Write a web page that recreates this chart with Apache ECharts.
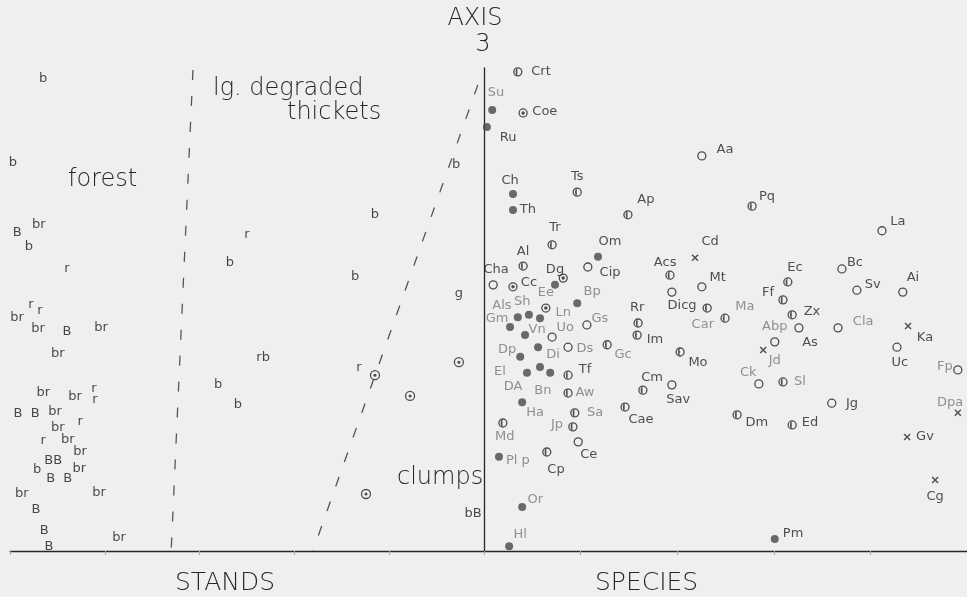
<!DOCTYPE html>
<html><head><meta charset="utf-8">
<script src="https://cdn.jsdelivr.net/npm/echarts@6/dist/echarts.min.js"></script>
<style>html,body{margin:0;padding:0;background:#efefef}#c{width:967px;height:597px}</style>
</head><body><div id="c"></div><script>
// ---- STANDS (axis 1 score, axis 3 score) ----
const standLetters = [
  ["b",7.0,97.9],["b",0.6,80.5],["B",1.5,66.0],["br",6.1,67.5],["b",4.0,63.1],["r",12.0,58.4],
  ["br",1.5,48.4],["r",4.4,51.1],["r",6.3,49.7],["br",5.9,46.0],["B",12.0,45.5],["br",19.2,46.2],
  ["br",10.1,40.8],["br",7.0,32.7],["br",13.7,31.9],["r",17.7,33.7],["r",17.9,31.3],
  ["B",1.7,28.4],["B",5.3,28.4],["br",9.5,28.8],["r",14.8,26.7],["br",10.1,25.5],["r",7.0,22.8],
  ["br",12.2,23.0],["BB",9.1,18.8],["br",14.8,20.5],["b",5.7,16.8],["B",8.6,14.9],["B",12.2,14.9],
  ["br",14.6,17.0],["br",2.5,11.8],["br",18.8,12.0],["B",5.5,8.5],["B",7.2,4.3],["B",8.2,1.0],
  ["br",23.0,2.7],["r",50.0,65.4],["b",46.4,59.8],["b",43.9,34.4],["b",48.1,30.4],["rb",53.4,40.0],
  ["b",77.0,69.6],["b",72.8,56.9],["b",94.1,79.9],["r",73.6,37.9],["g",94.7,53.2],["bB",97.7,7.7]
];
const standCircles = [[77.0,36.4],[94.7,39.1],[84.4,32.1],[75.1,11.8]];
const forestBoundary = [[38.6,99.6],[34.0,0]];
const thicketBoundary = [[98.7,96.5],[63.9,0]];

// ---- SPECIES: [label, x, y, labelX, labelY] ----
const openSpecies = [
  ["Aa",45.1,81.8,49.9,83.0],["Cip",21.5,58.8,26.1,57.6],["Cha",1.9,55.1,2.5,58.2],["Mt",45.1,54.7,48.4,56.5],
  ["Dicg",38.9,53.6,41.0,50.9],["Gs",21.3,46.8,24.0,48.2],["Uo",14.1,44.3,16.8,46.2],["Ds",17.4,42.2,20.9,42.0],
  ["Sav",38.9,34.4,40.2,31.3],["Ce",19.5,22.6,21.7,19.9],["La",82.4,66.3,85.7,68.1],["Bc",74.1,58.4,76.8,59.8],
  ["Sv",77.2,54.0,80.5,55.1],["Ai",86.7,53.6,88.8,56.5],["Abp",60.2,43.3,60.2,46.4],["As",65.2,46.2,67.5,43.1],
  ["Cla",73.3,46.2,78.5,47.4],["Uc",85.5,42.2,86.1,38.9],["Fp",98.1,37.5,95.4,38.1],["Ck",56.9,34.6,54.7,36.9],
  ["Jg",72.0,30.6,76.2,30.6]
];
const halfSpecies = [
  ["Crt",7.0,99.2,11.8,99.2],["Ts",19.3,74.3,19.3,77.6],["Ap",29.8,69.6,33.5,72.7],["Tr",14.1,63.4,14.7,66.9],
  ["Al",8.1,59.0,8.1,61.9],["Acs",38.5,57.1,37.5,59.8],["Pq",55.5,71.4,58.6,73.3],["Rr",31.9,47.2,31.7,50.3],
  ["Car",46.2,50.3,45.3,46.8],["Ma",49.9,48.2,54.0,50.5],["Im",31.7,44.7,35.4,43.7],["Mo",40.6,41.2,44.3,39.1],
  ["Gc",25.5,42.7,28.8,40.6],["Tf",17.4,36.4,20.9,37.5],["Cm",32.9,33.3,34.8,35.8],["Aw",17.4,32.7,20.9,32.7],
  ["Sa",18.8,28.6,23.0,28.6],["Cae",29.2,29.8,32.5,27.1],["Jp",18.4,25.7,15.1,26.1],["Md",3.9,26.5,4.3,23.6],
  ["Cp",13.0,20.5,14.9,16.8],["Ec",62.9,55.7,64.4,58.6],["Ff",61.9,52.0,58.8,53.4],["Zx",63.8,48.9,67.9,49.5],
  ["Sl",61.9,35.0,65.4,35.0],["Dm",52.4,28.2,56.5,26.5],["Ed",63.8,26.1,67.5,26.5]
];
const dottedSpecies = [
  ["Coe",8.1,90.7,12.6,90.9],["Dg",16.4,56.5,14.7,58.2],["Cc",6.0,54.7,9.3,55.5],["Ln",12.8,50.3,16.4,49.3]
];
const filledSpecies = [
  ["Su",1.7,91.3,2.5,94.8],["Ru",0.6,87.8,5.0,85.5],["Ch",6.0,73.9,5.4,76.6],["Th",6.0,70.6,9.1,70.6],
  ["Om",23.6,60.9,26.1,64.0],["Ee",14.7,55.1,12.8,53.4],["Bp",19.3,51.3,22.4,53.6],["Als",7.0,48.4,3.7,50.7],
  ["Sh",9.3,48.9,7.9,51.6],["Gm",5.4,46.4,2.7,48.2],["Vn",8.5,44.7,11.0,45.8],["Dp",7.5,40.2,4.8,41.6],
  ["Di",11.2,42.2,14.3,40.6],["El",8.9,36.9,3.3,37.1],["DA",11.6,38.1,6.0,34.0],["Bn",13.7,36.9,12.2,33.3],
  ["Ha",7.9,30.8,10.6,28.6],["Pl p",3.1,19.5,7.0,18.8],["Or",7.9,9.1,10.6,10.6],["Hl",5.2,1.0,7.5,3.3],
  ["Pm",60.2,2.5,64.0,3.7]
];
const unlabeledFilled = [[11.6,48.2]];
const crossSpecies = [
  ["Cd",43.7,60.7,46.8,64.0],["Ka",87.8,46.6,91.3,44.1],["Jd",57.8,41.6,60.2,39.5],
  ["Dpa",98.1,28.6,96.5,30.8],["Gv",87.6,23.6,91.3,23.6],["Cg",93.4,14.7,93.4,11.2]
];
const fadedLabels = ["Su","Ee","Bp","Als","Sh","Gm","Ln","Gs","Car","Ma","Vn","Uo","Dp","Di","Ds","Gc","El","DA","Bn",
  "Aw","Ha","Sa","Jp","Md","Pl p","Or","Hl","Abp","Cla","Jd","Fp","Ck","Sl","Dpa"];

const INK = '#262626', FADE = '#777';
const FONT = '"DejaVu Sans"';
const chart = echarts.init(document.getElementById('c'), null, {renderer:'canvas'});

const xy = arr => arr.map(d => [d[1], d[2]]);
const allSpecies = [].concat(openSpecies, halfSpecies, dottedSpecies, filledSpecies, crossSpecies);

const ring = {color:'#efefef', borderColor:INK, borderWidth:1.3};
const base = {type:'scatter', silent:true, xAxisIndex:1, yAxisIndex:1, z:3};

const option = {
  backgroundColor:'#efefef',
  animation:false,
  grid:[
    {left:10, top:68, width:474, height:483},
    {left:484, top:68, width:483, height:483}
  ],
  xAxis:[
    {gridIndex:0, type:'value', min:0, max:100, interval:20, splitLine:{show:false},
     axisLine:{lineStyle:{color:INK, width:1.4}}, axisTick:{length:4, lineStyle:{color:'#aaa'}}, axisLabel:{show:false}},
    {gridIndex:1, type:'value', min:0, max:100, interval:20, splitLine:{show:false},
     axisLine:{lineStyle:{color:INK, width:1.4}}, axisTick:{length:4, lineStyle:{color:'#aaa'}}, axisLabel:{show:false}}
  ],
  yAxis:[
    {gridIndex:0, type:'value', min:0, max:100, show:false},
    {gridIndex:1, type:'value', min:0, max:100, splitLine:{show:false},
     axisLine:{show:true, lineStyle:{color:INK, width:1.3}}, axisTick:{show:false}, axisLabel:{show:false}}
  ],
  graphic:[
    {type:'text', x:475, y:19, style:{text:'AXIS', font:'200 24px '+FONT, fill:INK, align:'center', verticalAlign:'middle'}},
    {type:'text', x:483, y:45, style:{text:'3', font:'200 24px '+FONT, fill:INK, align:'center', verticalAlign:'middle'}},
    {type:'text', x:213, y:89, style:{text:'lg. degraded', font:'200 24px '+FONT, fill:INK, align:'left', verticalAlign:'middle'}},
    {type:'text', x:287, y:113, style:{text:'thickets', font:'200 24px '+FONT, fill:INK, align:'left', verticalAlign:'middle'}},
    {type:'text', x:68, y:180, style:{text:'forest', font:'200 24px '+FONT, fill:INK, align:'left', verticalAlign:'middle'}},
    {type:'text', x:397, y:478, style:{text:'clumps', font:'200 24px '+FONT, fill:INK, align:'left', verticalAlign:'middle'}},
    {type:'text', x:175, y:583, style:{text:'STANDS', font:'200 25px '+FONT, fill:INK, align:'left', verticalAlign:'middle'}},
    {type:'text', x:595, y:583, style:{text:'SPECIES', font:'200 25px '+FONT, fill:INK, align:'left', verticalAlign:'middle'}}
  ],
  series:[
    {type:'line', silent:true, xAxisIndex:0, yAxisIndex:0, data:forestBoundary, symbol:'none',
     lineStyle:{color:'#555', width:1.3, type:[10,16]}},
    {type:'line', silent:true, xAxisIndex:0, yAxisIndex:0, data:thicketBoundary, symbol:'none',
     lineStyle:{color:'#555', width:1.3, type:[10,16]}},
    {type:'scatter', silent:true, xAxisIndex:0, yAxisIndex:0, symbol:'circle', symbolSize:1,
     itemStyle:{color:'rgba(0,0,0,0)'},
     data: standLetters.map(d => ({name:d[0], value:[d[1], d[2]]})),
     label:{show:true, position:'inside', formatter:'{b}', color:'#1c1c1c', fontFamily:FONT, fontSize:13}},
    {type:'scatter', silent:true, xAxisIndex:0, yAxisIndex:0, symbol:'circle', symbolSize:9,
     itemStyle:ring, data:standCircles},
    {type:'scatter', silent:true, xAxisIndex:0, yAxisIndex:0, symbol:'circle', symbolSize:3,
     itemStyle:{color:INK}, data:standCircles, z:4},
    // species markers
    Object.assign({}, base, {symbol:'circle', symbolSize:8, itemStyle:ring, data:xy(openSpecies)}),
    Object.assign({}, base, {symbol:'circle', symbolSize:8, itemStyle:ring, data:xy(halfSpecies)}),
    Object.assign({}, base, {symbol:'path://M10,0 A10,10 0 0,0 10,20 Z', symbolKeepAspect:true, symbolSize:[3.5,7],
      symbolOffset:[-1.3,0], itemStyle:{color:INK}, data:xy(halfSpecies), z:4}),
    Object.assign({}, base, {symbol:'circle', symbolSize:8, itemStyle:ring, data:xy(dottedSpecies)}),
    Object.assign({}, base, {symbol:'circle', symbolSize:3.5, itemStyle:{color:INK}, data:xy(dottedSpecies), z:4}),
    Object.assign({}, base, {symbol:'circle', symbolSize:8, itemStyle:{color:'#474747'}, data:xy(filledSpecies).concat(unlabeledFilled)}),
    Object.assign({}, base, {symbol:'path://M0,0L10,10M10,0L0,10', symbolSize:6,
      itemStyle:{color:'none', borderColor:INK, borderWidth:1.4}, data:xy(crossSpecies)}),
    // species labels
    Object.assign({}, base, {symbol:'circle', symbolSize:1, itemStyle:{color:'rgba(0,0,0,0)'}, z:5,
      data: allSpecies.map(d => ({name:d[0], value:[d[3], d[4]],
        label:{color: fadedLabels.indexOf(d[0]) >= 0 ? FADE : INK}})),
      label:{show:true, position:'inside', formatter:'{b}', fontFamily:FONT, fontSize:13}})
  ]
};
chart.setOption(option);
</script></body></html>
